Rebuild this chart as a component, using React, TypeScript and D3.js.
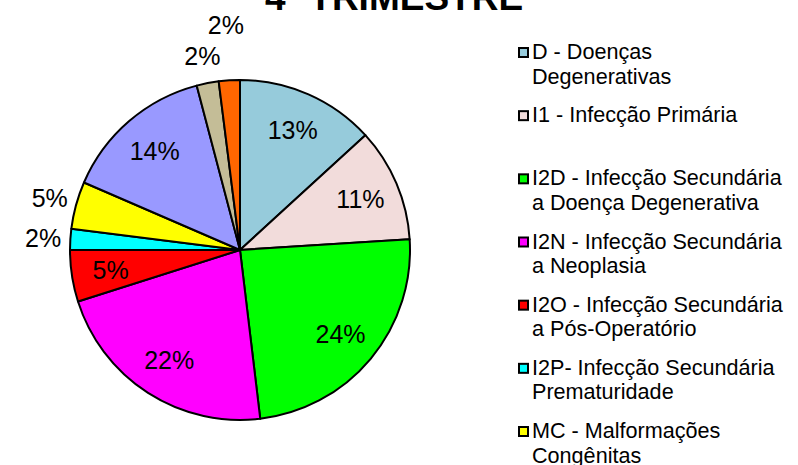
import * as d3 from "d3";

const title = "4º TRIMESTRE";

// legend names (last three are cut off in the source, codes unknown)
const categories = [
  "D - Doenças\nDegenerativas",
  "I1 - Infecção Primária",
  "I2D - Infecção Secundária\na Doença Degenerativa",
  "I2N - Infecção Secundária\na Neoplasia",
  "I2O - Infecção Secundária\na Pós-Operatório",
  "I2P- Infecção Secundária\nPrematuridade",
  "MC - Malformações\nCongênitas",
  "N - Neoplasias",
  "O - Outros",
  "NI - Não Identificado",
];

// shares in %
const values = [13.2, 10.8, 24.1, 22.0, 4.9, 2.0, 4.5, 14.4, 2.1, 2.0];

const colors = [
  "#96CBDB", "#F2DCDB", "#00FF00", "#FF00FF", "#FF0000",
  "#00FFFF", "#FFFF00", "#9999FF", "#C4BD97", "#FF6600",
];

const W = 798;
const H = 465;
const cx = 240;
const cy = 250;
const R = 170;
const font = "'Liberation Sans', Arial, sans-serif";

type Slice = d3.PieArcDatum<number>;

export default function App() {
  const pie = d3.pie<number>().sort(null).value((d) => d);
  const arcs = pie(values);
  const arc = d3.arc<Slice>().innerRadius(0).outerRadius(R);
  const inner = d3.arc<Slice>().innerRadius(R * 0.77).outerRadius(R * 0.77);
  const pct = (v: number) => d3.format(".0f")(v) + "%";

  // small slices get their label outside, pushed out until they stop overlapping
  const placed: { x: number; y: number; w: number }[] = [];
  const outside = arcs
    .map((a, i) => ({ a, i }))
    .filter(({ a }) => a.data < 4.8)
    .map(({ a, i }) => {
      const mid = (a.startAngle + a.endAngle) / 2;
      const text = pct(a.data);
      const w = text.length * 0.556 * 25 + 4;
      let r = R * 1.16;
      let x = 0, y = 0;
      for (let k = 0; k < 60; k++) {
        x = cx + Math.sin(mid) * r;
        y = cy - Math.cos(mid) * r;
        const hit = placed.some((p) => Math.abs(p.x - x) < (p.w + w) / 2 && Math.abs(p.y - y) < 30);
        if (!hit) break;
        r += 2;
      }
      placed.push({ x, y, w });
      return { i, x, y, text };
    });

  const legendY = d3.scaleLinear().domain([0, 6]).range([59, 438]);

  return (
    <svg
      width={W}
      height={H}
      style={{ position: "absolute", left: 0, top: 0, background: "#fff" }}
      fontFamily={font}
    >
      <text x={394} y={10} textAnchor="middle" fontSize={37} fontWeight="bold" fill="#000">
        {title}
      </text>

      <g transform={`translate(${cx},${cy})`}>
        {arcs.map((a, i) => (
          <path key={i} d={arc(a) ?? ""} fill={colors[i]} stroke="#000" strokeWidth={2} strokeLinejoin="round" />
        ))}
        {arcs.map((a, i) => {
          if (a.data < 4.8) return null;
          const [x, y] = inner.centroid(a);
          return (
            <text key={i} x={x} y={y} dy="0.36em" textAnchor="middle" fontSize={25} fill="#000">
              {pct(a.data)}
            </text>
          );
        })}
      </g>

      {outside.map((o) => (
        <text key={o.i} x={o.x} y={o.y} dy="0.36em" textAnchor="middle" fontSize={25} fill="#000">
          {o.text}
        </text>
      ))}

      <g fontSize={21.6} fill="#000">
        {categories.map((c, i) => {
          const y = legendY(i);
          return (
            <g key={i}>
              <rect x={519} y={y - 11} width={9} height={9} fill={colors[i]} stroke="#000" strokeWidth={2} />
              {c.split("\n").map((line, j) => (
                <text key={j} x={532} y={y + j * 24.5}>
                  {line}
                </text>
              ))}
            </g>
          );
        })}
      </g>
    </svg>
  );
}
